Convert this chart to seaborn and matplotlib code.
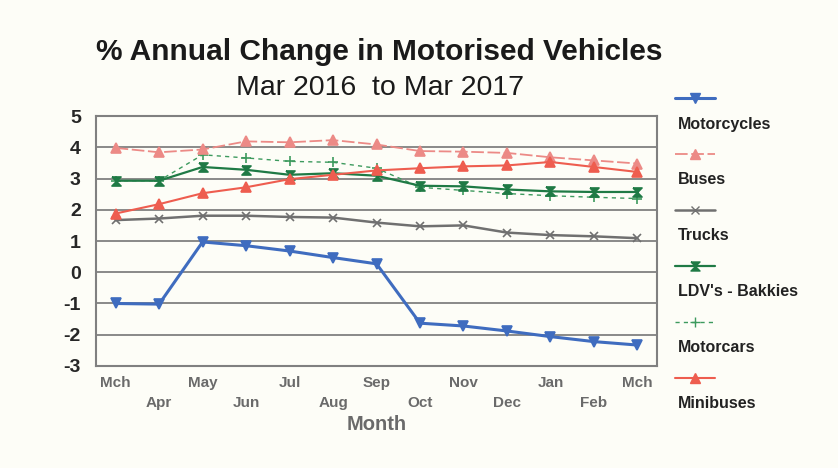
import numpy as np
import matplotlib.pyplot as plt
import seaborn as sns
import pandas as pd
from matplotlib.lines import Line2D

months = ['Mch', 'Apr', 'May', 'Jun', 'Jul', 'Aug', 'Sep', 'Oct', 'Nov', 'Dec', 'Jan', 'Feb', 'Mch']
motorcycles = [-1.0, -1.02, 0.97, 0.85, 0.68, 0.47, 0.27, -1.63, -1.72, -1.88, -2.06, -2.22, -2.33]
buses = [3.98, 3.84, 3.93, 4.19, 4.16, 4.23, 4.09, 3.88, 3.86, 3.82, 3.68, 3.58, 3.48]
trucks = [1.67, 1.72, 1.81, 1.81, 1.77, 1.75, 1.59, 1.47, 1.50, 1.27, 1.19, 1.15, 1.09]
ldvs = [2.93, 2.93, 3.37, 3.28, 3.12, 3.17, 3.09, 2.77, 2.75, 2.65, 2.59, 2.57, 2.57]
motorcars = [2.93, 2.93, 3.76, 3.66, 3.55, 3.52, 3.33, 2.72, 2.62, 2.52, 2.45, 2.40, 2.36]
minibuses = [1.88, 2.18, 2.53, 2.72, 2.98, 3.12, 3.26, 3.33, 3.39, 3.42, 3.53, 3.37, 3.21]

names = ['Motorcycles', 'Buses', 'Trucks', "LDV's - Bakkies", 'Motorcars', 'Minibuses']

df = pd.DataFrame({'pos': np.arange(len(months)), 'Month': months,
                   'Motorcycles': motorcycles, 'Buses': buses, 'Trucks': trucks,
                   "LDV's - Bakkies": ldvs, 'Motorcars': motorcars, 'Minibuses': minibuses})

hourglass = [(-1, 1), (1, 1), (-1, -1), (1, -1), (-1, 1)]
# colour, linestyle, marker, markersize, linewidth
styles = {
    'Motorcycles': ('#3f6cbf', '-', 'v', 6.5, 2.2),
    'Buses': ('#ec8a86', (0, (7, 2)), '^', 6.5, 1.3),
    'Trucks': ('#707070', '-', 'x', 6, 1.8),
    "LDV's - Bakkies": ('#1f7a45', '-', hourglass, 6.5, 1.6),
    'Motorcars': ('#3d9a5e', (0, (3, 3)), '+', 7, 1.0),
    'Minibuses': ('#ee5d4f', '-', '^', 6.5, 1.5),
}

sns.set_style('white')
plt.rcParams['font.family'] = ['Liberation Sans', 'DejaVu Sans']
plt.rcParams['axes.unicode_minus'] = False

fig = plt.figure(figsize=(8.38, 4.68), dpi=100, facecolor='#fdfdf7')
ax = fig.add_axes([0.1146, 0.218, 0.6694, 0.534])
ax.set_facecolor('#fdfdf7')

order = ['Trucks', 'Motorcars', "LDV's - Bakkies", 'Buses', 'Minibuses', 'Motorcycles']
for i, name in enumerate(order):
    c, ls, mk, ms, lw = styles[name]
    sns.lineplot(data=df, x='pos', y=name, ax=ax, color=c, linestyle=ls, marker=mk,
                 markersize=ms, linewidth=lw, markeredgecolor=c, markeredgewidth=1.2,
                 zorder=3 + i)

ax.set_xlim(-0.45, 12.45)
ax.set_ylim(-3, 5)
ax.set_yticks(range(-3, 6))
ax.set_yticks(np.arange(-2.5, 5, 1), minor=True)
ax.yaxis.grid(True, color='#808080', linewidth=1.3)
ax.set_axisbelow(True)
for s in ax.spines.values():
    s.set_color('#808080')
    s.set_linewidth(1.5)

ax.set_xticks(range(len(months)))
ax.set_xticklabels([m if i % 2 == 0 else '\n' + m for i, m in enumerate(months)],
                   fontsize=11, fontweight='bold', color='#6a6a6a', linespacing=1.55)
ax.tick_params(axis='x', direction='inout', length=8, width=1.2, color='#808080', pad=3)
ax.tick_params(axis='y', which='both', direction='inout', length=10, width=1.2, color='#808080',
               labelsize=14, pad=6)
ax.tick_params(axis='y', which='minor', length=7)
for t in ax.get_yticklabels():
    t.set_fontweight('bold')
ax.set_xlabel('Month', fontsize=14.5, fontweight='bold', color='#6a6a6a', labelpad=4)
ax.set_ylabel('')

fig.text(0.453, 0.889, '% Annual Change in Motorised Vehicles', ha='center', va='center',
         fontsize=21.5, fontweight='bold', color='#1a1a1a')
fig.text(0.453, 0.812, 'Mar 2016  to Mar 2017', ha='center', va='center', fontsize=20.5,
         color='#1a1a1a')

# legend: line sample above, label below
for k, name in enumerate(names):
    c, ls, mk, ms, lw = styles[name]
    yl = 1 - (98 + 56 * k) / 468
    yt = 1 - (124 + 56 * k) / 468
    fig.add_artist(Line2D([675 / 838, 695 / 838, 715 / 838], [yl, yl, yl], transform=fig.transFigure,
                          color=c, linestyle=ls, linewidth=lw, marker=mk, markersize=ms,
                          markevery=[1], markeredgecolor=c))
    fig.text(678 / 838, yt, name, ha='left', va='center', fontsize=11.5, fontweight='bold', color='#222222')

fig.savefig('out.png', dpi=100, facecolor=fig.get_facecolor())
